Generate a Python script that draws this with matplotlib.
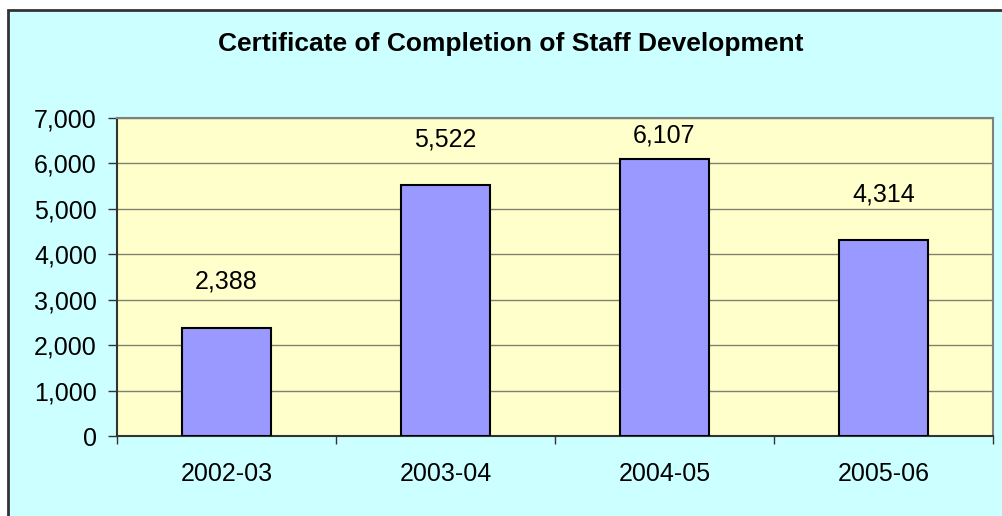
import matplotlib.pyplot as plt
from matplotlib.patches import Rectangle
from matplotlib.ticker import FuncFormatter, FixedLocator

# chart data
years = ["2002-03", "2003-04", "2004-05", "2005-06"]
certificates = [2388, 5522, 6107, 4314]

plt.rcParams['font.family'] = ['Liberation Sans', 'DejaVu Sans']

fig = plt.figure(figsize=(10.03, 5.16), dpi=100)
fig.patch.set_facecolor("white")

# outer chart frame (cyan, cut off at right and bottom like the screenshot)
frame = Rectangle((8 / 1003, -0.05), 1.1, 1 - 10 / 516 + 0.05, transform=fig.transFigure,
                  facecolor="#CCFFFF", edgecolor="#333333", linewidth=2, zorder=-10)
fig.patches.append(frame)

ax = fig.add_axes([117 / 1003, 80 / 516, 876 / 1003, 318 / 516])
ax.set_facecolor("#FFFFCC")

x = list(range(len(years)))
ax.bar(x, certificates, width=0.41, color="#9999FF", edgecolor="black", linewidth=1.5, zorder=3)

for xi, v in zip(x, certificates):
    # Excel pushes the top label down so it stays inside the plot area
    ax.text(xi, min(v + 850, 6470), f"{v:,}", ha="center", va="baseline", fontsize=18, zorder=4)

ax.set_xlim(-0.5, 3.5)
ax.set_ylim(0, 7000)
ax.set_yticks(range(0, 7001, 1000))
ax.yaxis.set_major_formatter(FuncFormatter(lambda v, p: f"{int(v):,}"))
ax.grid(axis="y", color="#808070", linewidth=1, zorder=1)

ax.set_xticks(x)
ax.set_xticklabels(years)
ax.xaxis.set_minor_locator(FixedLocator([-0.5, 0.5, 1.5, 2.5, 3.5]))
ax.tick_params(axis="x", which="major", length=0, pad=19, labelsize=18)
ax.tick_params(axis="x", which="minor", length=6, width=1, color="#333333", direction="out")
ax.tick_params(axis="y", length=6.5, width=1, color="#333333", pad=8, labelsize=18)

for s in ["left", "bottom"]:
    ax.spines[s].set_color("#333333")
    ax.spines[s].set_linewidth(1.5)
for s in ["top", "right"]:
    ax.spines[s].set_color("#808080")
    ax.spines[s].set_linewidth(1.5)

fig.text(511 / 1003, 1 - 44 / 516, "Certificate of Completion of Staff Development",
         ha="center", va="center", fontsize=19, fontweight="bold")

fig.savefig("out.png", dpi=100)
